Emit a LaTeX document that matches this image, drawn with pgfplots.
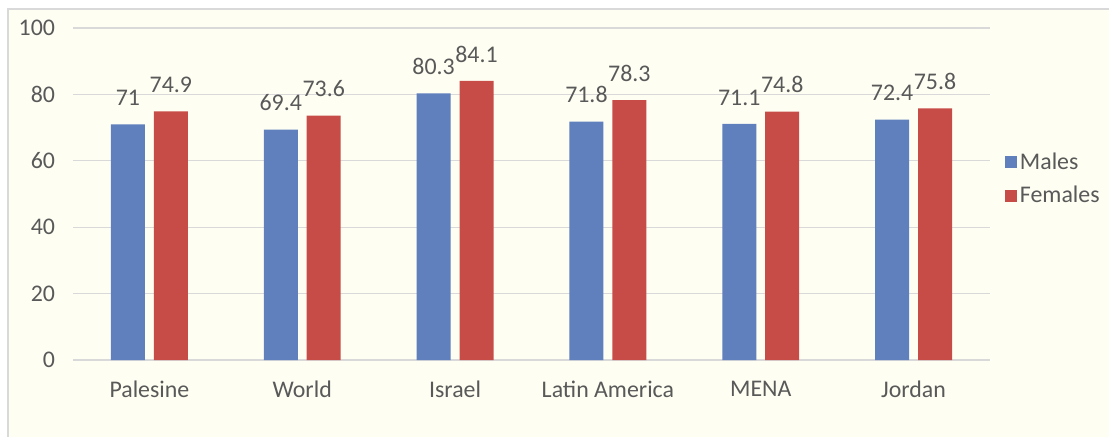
\documentclass[border=0pt]{standalone}
\usepackage{fontspec}
\setmainfont{Carlito}
\usepackage{pgfplots}
\pgfplotsset{compat=1.18}
\definecolor{males}{HTML}{5F80BD}
\definecolor{females}{HTML}{C74C48}
\definecolor{txt}{HTML}{595959}
\definecolor{gridc}{HTML}{D9D9D9}
\definecolor{paper}{HTML}{FEFEF3}
\begin{document}
\begin{tikzpicture}
\useasboundingbox (-54.75pt,-57pt) rectangle (777pt,270pt);
\filldraw[fill=paper, draw=gridc, line width=0.8pt] (-48.75pt,-80pt) rectangle (800pt,263.25pt);
\begin{axis}[
  scale only axis, width=687.75pt, height=249pt,
  ybar, bar width=25.5pt,
  xmin=-0.5, xmax=5.5, ymin=0, ymax=100,
  xtick=data,
  xticklabels={Palesine, World, Israel, Latin America, MENA, Jordan},
  ytick={0,20,40,60,80,100},
  major tick length=0pt,
  axis line style={draw=none},
  ymajorgrids, grid style={color=gridc, line width=1pt},
  font=\fontsize{17.9}{21}\selectfont,
  tick label style={color=txt},
  /pgf/number format/assume math mode=true,
  yticklabel style={xshift=-10pt},
  xticklabel style={yshift=-12pt},
  nodes near coords,
  every node near coord/.append style={color=txt, anchor=base, yshift=14pt},
  legend style={draw=none, fill=none, at={(1.012,0.545)}, anchor=west,
    text=txt, row sep=7pt, font=\fontsize{17.9}{21}\selectfont},
  legend cell align=left,
  legend image code/.code={\fill[#1] (0pt,-4.5pt) rectangle (9pt,4.5pt);},
]
\addplot[draw=none, fill=males, bar shift=-16.1pt] coordinates {(0,71) (1,69.4) (2,80.3) (3,71.8) (4,71.1) (5,72.4)};
\addlegendentry{Males}
\addplot[draw=none, fill=females, bar shift=16.1pt] coordinates {(0,74.9) (1,73.6) (2,84.1) (3,78.3) (4,74.8) (5,75.8)};
\addlegendentry{Females}
\end{axis}
\end{tikzpicture}
\end{document}
